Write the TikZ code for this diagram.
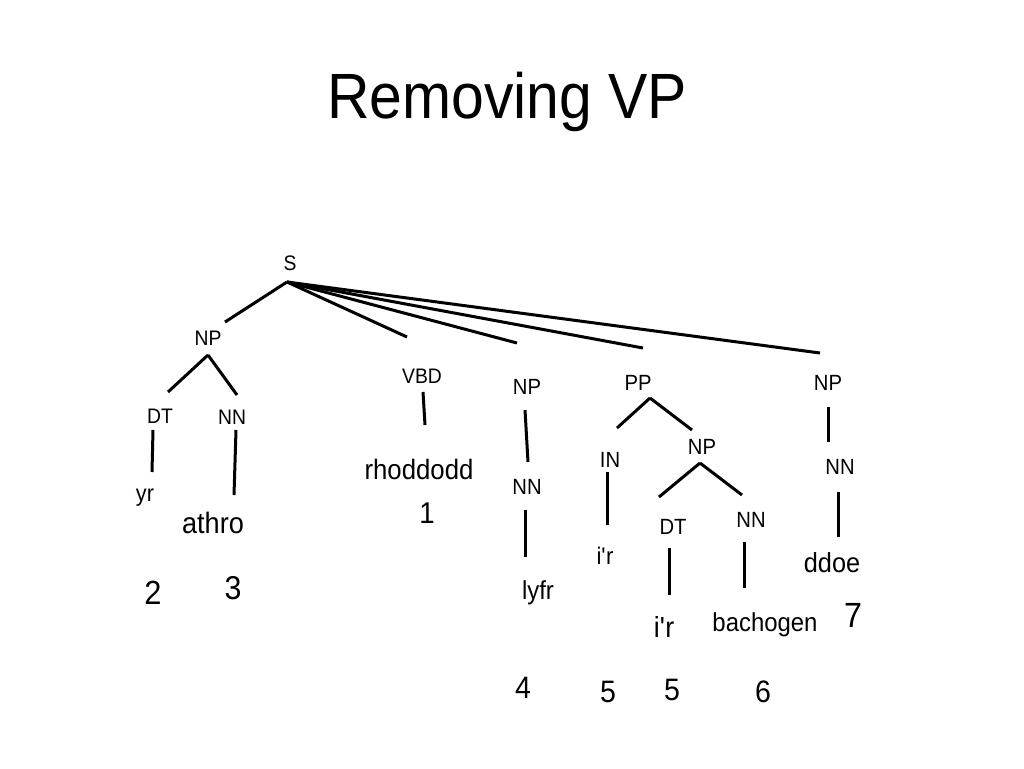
\documentclass[tikz,border=0pt]{standalone}
\usepackage{fontspec}
\setmainfont{Liberation Sans}[FakeStretch=0.92]
\usetikzlibrary{calc}
\tikzset{
  branch/.style={line width=3pt},
  cat/.style={inner sep=0pt,font=\fontsize{#1}{#1}\selectfont},
  cat/.default=22,
  word/.style={inner sep=0pt,font=\fontsize{#1}{#1}\selectfont},
  word/.default=28,
  num/.style={inner sep=0pt,font=\fontsize{#1}{#1}\selectfont},
  num/.default=31
}

\begin{document}
\begin{tikzpicture}[x=1pt,y=-1pt]
\useasboundingbox (0,0) rectangle (1024,768);
\node[anchor=base,font=\fontsize{64}{70}\selectfont] (title) at (507,118) {Removing VP};

% categories
\node[cat=21] (s) at (290,263) {S};
\node[cat=21] (np1) at (208,338) {NP};
\node[cat=21] (dt1) at (160,416) {DT};
\node[cat=21] (nn1) at (232,417) {NN};
\node[cat=21] (vbd) at (422,376) {VBD};
\node[cat] (np2) at (527,387) {NP};
\node[cat] (nn2) at (527,487) {NN};
\node[cat] (pp) at (638,383) {PP};
\node[cat] (in) at (610,460) {IN};
\node[cat] (np3) at (702,447) {NP};
\node[cat] (dt2) at (673,527) {DT};
\node[cat] (nn3) at (751,520) {NN};
\node[cat] (np4) at (828,383) {NP};
\node[cat] (nn4) at (840,467) {NN};

% words
\node[word=23.5] (yr) at (145,498) {yr};
\node[word=29.5] (athro) at (213,523) {athro};
\node[word] (rhoddodd) at (419,469) {rhoddodd};
\node[word=26] (lyfr) at (538,593) {lyfr};
\node[word=24] (ir1) at (605,556) {i\textquotesingle r};
\node[word=29] (ir2) at (664,627) {i\textquotesingle r};
\node[word=26] (bachogen) at (765,625) {bachogen};
\node[word=27.5] (ddoe) at (832,563) {ddoe};

% positions
\node[num=33.5] (n2) at (153,593) {2};
\node[num=33] (n3) at (233,588) {3};
\node[num=30] (n1) at (427,513) {1};
\node[num] (n4) at (523,688) {4};
\node[num] (n5a) at (608,692) {5};
\node[num] (n5b) at (672,690) {5};
\node[num] (n6) at (763,692) {6};
\node[num=35] (n7) at (853,615) {7};

\draw[branch] ($(s)+(-3,19)$) -- ($(np1)+(17,-16)$);
\draw[branch] ($(s)+(-3,19)$) -- ($(vbd)+(-15,-39)$);
\draw[branch] ($(s)+(-3,19)$) -- ($(np2)+(-10,-44)$);
\draw[branch] ($(s)+(-3,19)$) -- ($(pp)+(5,-35)$);
\draw[branch] ($(s)+(-3,19)$) -- ($(np4)+(-8,-30)$);

\draw[branch] ($(np1)+(0,17)$) -- ($(dt1)+(8,-24)$);
\draw[branch] ($(np1)+(0,17)$) -- ($(nn1)+(5,-22)$);
\draw[branch] ($(dt1)+(-7,14)$) -- ($(yr)+(7,-26)$);
\draw[branch] ($(nn1)+(4,13)$) -- ($(athro)+(21,-28)$);

\draw[branch] ($(vbd)+(1,16)$) -- ($(rhoddodd)+(6,-44)$);

\draw[branch] ($(np2)+(-2,23)$) -- ($(nn2)+(1,-25)$);
\draw[branch] ($(nn2)+(-2,23)$) -- ($(lyfr)+(-13,-36)$);

\draw[branch] ($(pp)+(12,15)$) -- ($(in)+(7,-32)$);
\draw[branch] ($(pp)+(12,15)$) -- ($(np3)+(-10,-17)$);
\draw[branch] ($(in)+(-3,12)$) -- ($(ir1)+(2,-31)$);
\draw[branch] ($(np3)+(-2,16)$) -- ($(dt2)+(-14,-30)$);
\draw[branch] ($(np3)+(-2,16)$) -- ($(nn3)+(-9,-25)$);
\draw[branch] ($(dt2)+(-4,21)$) -- ($(ir2)+(5,-32)$);
\draw[branch] ($(nn3)+(-7,22)$) -- ($(bachogen)+(-21,-37)$);

\draw[branch] ($(np4)+(0,24)$) -- ($(nn4)+(-12,-25)$);
\draw[branch] ($(nn4)+(-2,25)$) -- ($(ddoe)+(6,-26)$);
\end{tikzpicture}
\end{document}
